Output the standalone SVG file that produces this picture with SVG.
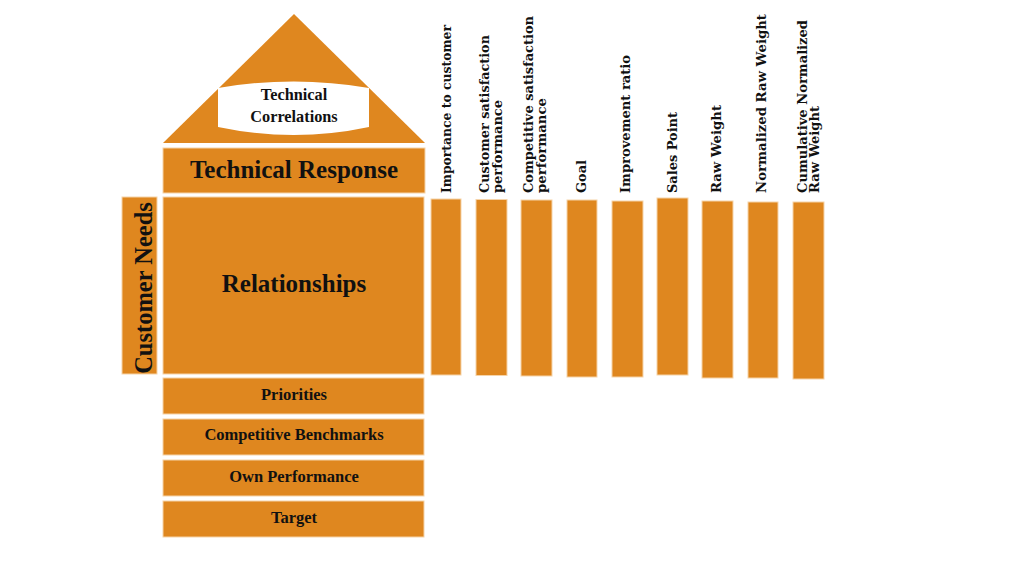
<svg xmlns="http://www.w3.org/2000/svg" width="1024" height="576" viewBox="0 0 1024 576">
<style>
.box{fill:#DF871F;stroke:#F6D3A8;stroke-width:1}
.t{font-family:"Liberation Serif","Times New Roman",serif;font-weight:bold;fill:#111;text-anchor:middle}
.c{font-family:"DejaVu Serif","Liberation Serif",serif;font-weight:bold;font-size:13.5px;fill:#111}
</style>
<rect width="1024" height="576" fill="#ffffff"/>
<g id="roof">
<polygon points="294,14 425,143 163,143" fill="#DF871F"/>
<path d="M218,88 Q294,75 369,88 L369,127 Q294,143 218,127 Z" fill="#ffffff"/>
<text class="t" x="294" y="100" font-size="16.3">Technical</text>
<text class="t" x="294" y="122" font-size="16.3">Correlations</text>
</g>
<g id="technical-response">
<rect class="box" x="163" y="148" width="262" height="45"/>
<text class="t" x="294" y="177.5" font-size="25">Technical Response</text>
</g>
<g id="customer-needs">
<rect class="box" x="122" y="197" width="35" height="177"/>
<text class="t" transform="translate(152,288) rotate(-90)" font-size="24.5">Customer Needs</text>
</g>
<g id="relationships">
<rect class="box" x="163" y="197" width="261" height="177"/>
<text class="t" x="294" y="292" font-size="25">Relationships</text>
</g>
<g id="priorities">
<rect class="box" x="163" y="378" width="261" height="36"/>
<text class="t" x="294" y="400" font-size="16.5">Priorities</text>
</g>
<g id="competitive-benchmarks">
<rect class="box" x="163" y="419" width="261" height="36"/>
<text class="t" x="294" y="440" font-size="16.5">Competitive Benchmarks</text>
</g>
<g id="own-performance">
<rect class="box" x="163" y="460" width="261" height="36"/>
<text class="t" x="294" y="482" font-size="16.5">Own Performance</text>
</g>
<g id="target">
<rect class="box" x="163" y="501" width="261" height="36"/>
<text class="t" x="294" y="523" font-size="16.5">Target</text>
</g>
<g id="col-importance">
<rect class="box" x="431" y="199" width="30" height="176"/>
<text class="c" transform="translate(450.5,193) rotate(-90)" textLength="168" lengthAdjust="spacingAndGlyphs">Importance to customer</text>
</g>
<g id="col-customer-satisfaction">
<rect class="box" x="476" y="199.5" width="31" height="176"/>
<text class="c" transform="translate(489,193) rotate(-90)" textLength="158" lengthAdjust="spacingAndGlyphs">Customer satisfaction</text>
<text class="c" transform="translate(501.5,193) rotate(-90)" textLength="93" lengthAdjust="spacingAndGlyphs">performance</text>
</g>
<g id="col-competitive-satisfaction">
<rect class="box" x="521" y="200" width="31" height="176"/>
<text class="c" transform="translate(533,193) rotate(-90)" textLength="177" lengthAdjust="spacingAndGlyphs">Competitive satisfaction</text>
<text class="c" transform="translate(546,193) rotate(-90)" textLength="95" lengthAdjust="spacingAndGlyphs">performance</text>
</g>
<g id="col-goal">
<rect class="box" x="567" y="200" width="30" height="177"/>
<text class="c" transform="translate(585.5,193) rotate(-90)" textLength="33" lengthAdjust="spacingAndGlyphs">Goal</text>
</g>
<g id="col-improvement">
<rect class="box" x="612" y="201" width="31" height="176"/>
<text class="c" transform="translate(629.5,193) rotate(-90)" textLength="138" lengthAdjust="spacingAndGlyphs">Improvement ratio</text>
</g>
<g id="col-sales-point">
<rect class="box" x="657" y="198" width="31" height="177"/>
<text class="c" transform="translate(676.5,193) rotate(-90)" textLength="81" lengthAdjust="spacingAndGlyphs">Sales Point</text>
</g>
<g id="col-raw-weight">
<rect class="box" x="702" y="201" width="31" height="177"/>
<text class="c" transform="translate(720.5,193) rotate(-90)" textLength="88" lengthAdjust="spacingAndGlyphs">Raw Weight</text>
</g>
<g id="col-normalized">
<rect class="box" x="748" y="202" width="30" height="176"/>
<text class="c" transform="translate(765.5,193) rotate(-90)" textLength="179" lengthAdjust="spacingAndGlyphs">Normalized Raw Weight</text>
</g>
<g id="col-cumulative">
<rect class="box" x="793" y="202" width="31" height="177"/>
<text class="c" transform="translate(807,193) rotate(-90)" textLength="173" lengthAdjust="spacingAndGlyphs">Cumulative Normalized</text>
<text class="c" transform="translate(818.5,193) rotate(-90)" textLength="87" lengthAdjust="spacingAndGlyphs">Raw Weight</text>
</g>
<g id="connectors"/>
</svg>
